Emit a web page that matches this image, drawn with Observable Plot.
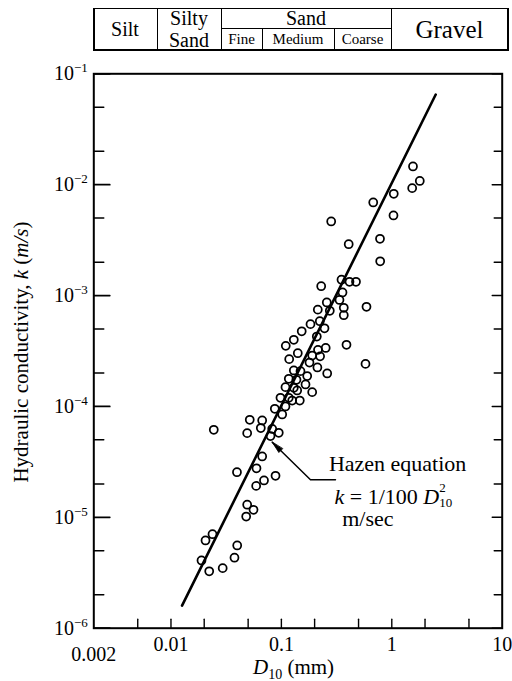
<!DOCTYPE html>
<html><head><meta charset="utf-8">
<script src="https://cdn.jsdelivr.net/npm/d3@7"></script>
<script src="https://cdn.jsdelivr.net/npm/@observablehq/plot@0.6"></script>
<style>
body{margin:0;background:#fff;}
#wrap{position:relative;width:512px;height:681px;overflow:hidden;font-family:"Liberation Serif","Times New Roman",serif;color:#000;}
#wrap svg{position:absolute;left:0;top:0;}
.cell{position:absolute;box-sizing:border-box;display:flex;align-items:center;justify-content:center;text-align:center;line-height:1;}
.ln{position:absolute;background:#000;}
</style></head><body><div id="wrap"></div>
<script>
// Observed data: D10 (mm) and hydraulic conductivity k (m/s)
const D10 = [1.556,1.793,1.530,1.042,0.679,1.036,0.2826,0.782,0.4071,0.785,0.3503,0.4139,0.4740,0.2294,0.3577,0.3359,0.2578,0.590,0.3675,0.2137,0.2745,0.3675,0.1835,0.2228,0.2458,0.1528,0.2093,0.1296,0.1096,0.3888,0.2520,0.2146,0.1408,0.1901,0.2242,0.1177,0.1797,0.578,0.2119,0.260,0.1296,0.1490,0.1713,0.1167,0.1370,0.1089,0.1296,0.1654,0.1390,0.1901,0.0981,0.1167,0.1468,0.1253,0.1089,0.0872,0.1017,0.0670,0.0517,0.0651,0.0490,0.02442,0.0826,0.0947,0.0797,0.0670,0.0595,0.0396,0.0885,0.0696,0.0591,0.0490,0.0559,0.0480,0.02377,0.02055,0.0398,0.0376,0.0189,0.0294,0.0222];
const K = [0.01459,0.0108,0.0093,0.00828,0.00691,0.00528,0.004656,0.003251,0.002906,0.002038,0.00139,0.001331,0.001331,0.001215,0.001066,0.000912,0.000866,0.000792,0.000776,0.000746,0.000729,0.000665,0.000552,0.000587,0.000507,0.000476,0.000427,0.000399,0.000352,0.00036,0.000337,0.000324,0.000302,0.000288,0.000283,0.000267,0.000249,0.000242,0.0002245,0.0001982,0.000211,0.000208,0.000188,0.0001776,0.0001739,0.0001492,0.0001474,0.0001578,0.0001393,0.0001345,0.0001197,0.0001197,0.0001131,0.0001131,0.0000999,0.0000952,0.0000846,0.0000747,0.0000758,0.0000639,0.0000574,0.0000616,0.0000626,0.0000579,0.0000541,0.0000354,0.0000277,0.0000255,0.0000237,0.0000215,0.0000192,0.000013,0.0000117,0.00001017,7.04e-6,6.18e-6,5.57e-6,4.32e-6,4.08e-6,3.48e-6,3.26e-6];

// Hazen line k = 1/100 D10^2 (end points as drawn)
const hazenD = [0.0126, 2.5];
const hazenK = [1.6e-6, 0.065];

// Ticks
const xLabelTicks = [0.01, 0.1, 1, 10];
const xLabelLow = [0.002];
const xTicks = [0.005, 0.01, 0.02, 0.05, 0.1, 0.2, 0.5, 1, 2, 5];
const yMajor = [1e-6, 1e-5, 1e-4, 1e-3, 1e-2, 1e-1];
const yMinor = [2e-6, 5e-6, 2e-5, 5e-5, 2e-4, 5e-4, 2e-3, 5e-3, 2e-2, 5e-2];

// Annotation (data coordinates)
const annoText = ["Hazen equation", "k = 1/100 D", "m/sec"];
const annoD = [0.2694, 0.3027, 0.3554];
const annoK = [3.06e-5, 1.54e-5, 0.96e-5];
const arrowD = [0.0826, 0.1835, 0.309];
const arrowK = [4.76e-5, 2.18e-5, 2.18e-5];

// Soil classes header
const soilTop = ["Silt", "Silty Sand", "Sand", "Gravel"];
const sandSub = ["Fine", "Medium", "Coarse"];

const pts = D10.map((d, i) => ({D: d, K: K[i]}));
const hazen = hazenD.map((d, i) => ({D: d, K: hazenK[i]}));
const anno = annoText.map((t, i) => ({t, D: annoD[i], K: annoK[i]}));
const arrowPts = arrowD.map((d, i) => ({D: d, K: arrowK[i]}));

const line = {draw(ctx, l) { ctx.moveTo(0, 0); ctx.lineTo(0, -l); }};
const head = {draw(ctx, l) { ctx.moveTo(0, -l); ctx.lineTo(-2.6, 0); ctx.lineTo(2.6, 0); ctx.closePath(); }};

const serif = '"Liberation Serif","Times New Roman",serif';
const chart = Plot.plot({
  width: 512, height: 681,
  marginLeft: 93.3, marginRight: 10.3, marginTop: 73.3, marginBottom: 53.3,
  style: {fontFamily: serif, fontSize: "20px", color: "#000", background: "transparent", overflow: "visible"},
  x: {type: "log", domain: [0.002, 10]},
  y: {type: "log", domain: [1e-6, 1e-1]},
  marks: [
    Plot.vector(xTicks, {x: d => d, frameAnchor: "bottom", length: 9, anchor: "start", rotate: 0, shape: line, stroke: "#000", strokeWidth: 1.4}),
    Plot.vector(yMajor, {y: d => d, frameAnchor: "left", length: 16, anchor: "start", rotate: 90, shape: line, stroke: "#000", strokeWidth: 1.7}),
    Plot.vector(yMinor, {y: d => d, frameAnchor: "left", length: 10, anchor: "start", rotate: 90, shape: line, stroke: "#000", strokeWidth: 1.4}),
    Plot.vector(yMajor, {y: d => d, frameAnchor: "right", length: 10, anchor: "start", rotate: -90, shape: line, stroke: "#000", strokeWidth: 1.4}),
    Plot.vector(yMinor, {y: d => d, frameAnchor: "right", length: 8, anchor: "start", rotate: -90, shape: line, stroke: "#000", strokeWidth: 1.4}),
    Plot.axisY({ticks: yMajor, tickSize: 0, tickPadding: 6, tickFormat: d => String(Math.round(Math.log10(d))), label: null, fontSize: 20}),
    Plot.axisX({ticks: xLabelTicks, tickSize: 0, tickPadding: 9, tickFormat: d => String(d), label: null, fontSize: 20}),
    Plot.axisX({ticks: xLabelLow, tickSize: 0, tickPadding: 19, tickFormat: d => String(d), label: null, fontSize: 20}),
    Plot.line(hazen, {x: "D", y: "K", stroke: "#000", strokeWidth: 2.6}),
    Plot.dot(pts, {x: "D", y: "K", r: 4, stroke: "#000", strokeWidth: 1.75, fill: "none"}),
    Plot.line(arrowPts, {x: "D", y: "K", stroke: "#000", strokeWidth: 1.5}),
    Plot.vector([arrowPts[0]], {x: "D", y: "K", length: 12, anchor: "end", rotate: -45, shape: head, fill: "#000", stroke: "#000", strokeWidth: 0.8}),
    Plot.text(anno, {x: "D", y: "K", text: "t", textAnchor: "start", fontSize: 22, fill: "#000"}),
    Plot.frame({stroke: "#000", strokeWidth: 2})
  ]
});

const wrap = document.getElementById("wrap");
wrap.appendChild(chart);
const svg = d3.select(chart);

// superscript exponents on y tick labels
svg.selectAll('g[aria-label="y-axis tick label"] text').each(function() {
  const t = d3.select(this);
  const e = Math.abs(parseInt(this.textContent.replace("−", "-"), 10));
  t.text(null);
  t.append("tspan").text("10");
  t.append("tspan").attr("dy", "-8").attr("font-size", "13px").text("−" + e);
});

// annotation formula line
svg.selectAll("text").filter(function() { return this.textContent === "k = 1/100 D"; }).each(function() {
  const t = d3.select(this);
  t.text(null);
  t.append("tspan").attr("font-style", "italic").text("k");
  t.append("tspan").text(" = 1/100 ");
  t.append("tspan").attr("font-style", "italic").text("D");
  t.append("tspan").attr("font-size", "13px").attr("dy", "-12").text("2");
  t.append("tspan").attr("font-size", "13px").attr("dx", "-6.5").attr("dy", "15").text("10");
});

// axis titles
const yt = svg.append("text")
  .attr("transform", "translate(21,352) rotate(-90)")
  .attr("text-anchor", "middle").attr("dy", "0.35em")
  .attr("font-family", serif).attr("font-size", "21px").attr("fill", "#000");
yt.append("tspan").text("Hydraulic conductivity, ");
yt.append("tspan").attr("font-style", "italic").text("k");
yt.append("tspan").text(" (");
yt.append("tspan").attr("font-style", "italic").text("m/s");
yt.append("tspan").text(")");

const xt = svg.append("text")
  .attr("x", 253).attr("y", 674).attr("text-anchor", "start")
  .attr("font-family", serif).attr("font-size", "21px").attr("fill", "#000");
xt.append("tspan").attr("font-style", "italic").text("D");
xt.append("tspan").attr("font-size", "14px").attr("dy", "5").text("10");
xt.append("tspan").attr("dy", "-5").text(" (mm)");

// soil classification header
function box(l, t, w, h, html, fs) {
  const d = document.createElement("div");
  d.className = "cell";
  Object.assign(d.style, {left: l + "px", top: t + "px", width: w + "px", height: h + "px", fontSize: fs + "px"});
  d.innerHTML = html;
  wrap.appendChild(d);
}
function ln(l, t, w, h) {
  const d = document.createElement("div");
  d.className = "ln";
  Object.assign(d.style, {left: l + "px", top: t + "px", width: w + "px", height: h + "px"});
  wrap.appendChild(d);
}
ln(93, 7.5, 415.5, 1.6); ln(93, 49.3, 415.5, 1.6);
ln(93, 7.5, 1.6, 43.4); ln(507, 7.5, 1.6, 43.4);
ln(156.5, 7.5, 1.4, 43.4); ln(220.5, 7.5, 1.4, 43.4); ln(390.5, 7.5, 1.4, 43.4);
ln(221, 27.6, 170, 1.4);
ln(261.5, 28, 1.2, 22); ln(333.5, 28, 1.2, 22);
box(93, 8, 64, 42, soilTop[0], 20);
box(157, 8, 64, 42, "<div style='line-height:22px'>" + soilTop[1].replace(" ", "<br>") + "</div>", 20);
box(221, 8, 170, 20, soilTop[2], 20);
box(221, 29, 41, 21, sandSub[0], 15);
box(262, 29, 72, 21, sandSub[1], 15);
box(334, 29, 57, 21, sandSub[2], 15);
box(391, 8, 117, 42, soilTop[3], 25);
</script>
</body></html>
